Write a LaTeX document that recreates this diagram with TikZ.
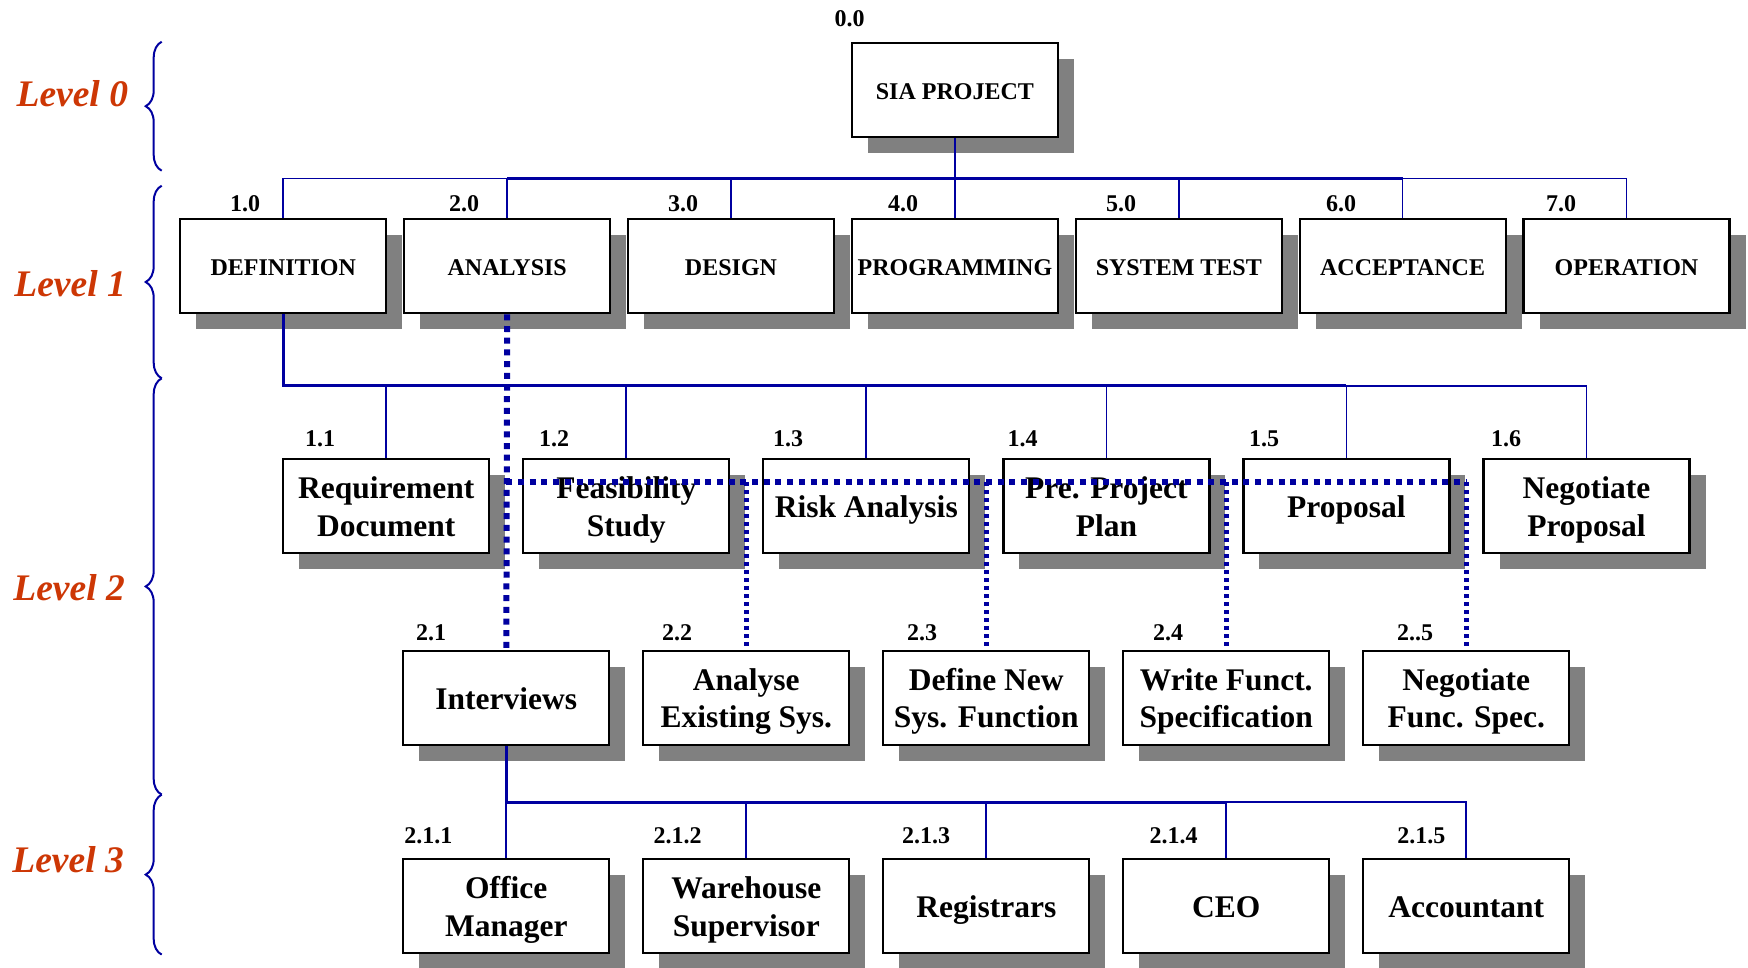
\documentclass[tikz,border=0pt]{standalone}
\usepackage{fontspec}
\setmainfont{Liberation Serif}
\usepackage{array}
\usetikzlibrary{decorations.pathreplacing,shadows}
\definecolor{lblue}{RGB}{0,0,160}
\definecolor{lvl}{RGB}{205,55,5}
\definecolor{shad}{RGB}{128,128,128}
\newcolumntype{B}{@{}>{\rule[-7.7pt]{0pt}{37.4pt}}c@{}}
\newcolumntype{S}{@{}>{\rule[-1pt]{0pt}{21pt}}c@{}}
\renewcommand\arraystretch{0}
\newcommand\BT[1]{\begin{tabular}{B}#1\end{tabular}}
\newcommand\ST[1]{\begin{tabular}{S}#1\end{tabular}}
\tikzset{
  wbox/.style={draw=black, line width=2.2pt, fill=white, minimum width=206pt, minimum height=94pt,
    inner sep=0pt, anchor=center,
    drop shadow={shadow xshift=16pt, shadow yshift=-16pt, fill=shad, opacity=1, draw=none}},
  smallbox/.style={wbox, font=\fontsize{24}{28}\selectfont\bfseries},
  bigbox/.style={wbox, font=\fontsize{31.5}{37.4}\selectfont\bfseries},
  num/.style={inner sep=0pt, anchor=base, font=\fontsize{24}{28}\selectfont\bfseries},
  lev/.style={inner sep=0pt, anchor=base east, text=lvl, font=\fontsize{37.5}{40}\selectfont\bfseries\itshape},
  thinln/.style={draw=lblue, line width=1.7pt},
  thickln/.style={draw=lblue, line width=2.7pt},
  bigdot/.style={draw=lblue, line width=6pt, dash pattern=on 6pt off 5.7pt},
  smalldot/.style={draw=lblue, line width=4.5pt, dash pattern=on 4pt off 4pt},
  brc/.style={draw=lblue, line width=2pt, decorate, decoration={brace, amplitude=16pt}}
}
\begin{document}
\begin{tikzpicture}[x=1pt,y=-1pt]
\useasboundingbox (0,0) rectangle (1748,967);
\fill[white] (0,0) rectangle (1748,967);

% level labels and braces
\node[lev] (lv0) at (128.2,106) {Level 0};
\node[lev] (lv1) at (126,296.7) {Level 1};
\node[lev] (lv2) at (125,600) {Level 2};
\node[lev] (lv3) at (124,872) {Level 3};
\draw[brc] (161.7,170.7) -- (161.7,41.7);
\draw[brc] (161.7,378.3) -- (161.7,185.7);
\draw[brc] (161.7,794.6) -- (161.7,378.3);
\draw[brc] (161.7,954.6) -- (161.7,794.6);

% level 0
\node[smallbox] (root) at (954.9,90.3) {\ST{SIA PROJECT}};
\node[num] (n00) at (849.5,26) {0.0};

% level 1
\node[smallbox] (d1) at (283.3,266.2) {\ST{DEFINITION}};
\node[smallbox] (d2) at (507.2,266.2) {\ST{ANALYSIS}};
\node[smallbox] (d3) at (731.0,266.2) {\ST{DESIGN}};
\node[smallbox] (d4) at (954.9,266.2) {\ST{PROGRAMMING}};
\node[smallbox] (d5) at (1178.8,266.2) {\ST{SYSTEM TEST}};
\node[smallbox] (d6) at (1402.6,266.2) {\ST{ACCEPTANCE}};
\node[smallbox] (d7) at (1626.5,266.2) {\ST{OPERATION}};
\node[num] (n10) at (245,211.7) {1.0};
\node[num] (n20) at (464,211.7) {2.0};
\node[num] (n30) at (683,211.7) {3.0};
\node[num] (n40) at (903,211.7) {4.0};
\node[num] (n50) at (1121,211.7) {5.0};
\node[num] (n60) at (1341,211.7) {6.0};
\node[num] (n70) at (1561,211.7) {7.0};

% level 2 (1.x)
\node[bigbox] (a1) at (386.2,506.3) {\BT{Requirement\\Document}};
\node[bigbox] (a2) at (626.3,506.3) {\BT{Feasibility\\Study}};
\node[bigbox] (a3) at (866.3,506.3) {\BT{Risk Analysis}};
\node[bigbox] (a4) at (1106.4,506.3) {\BT{Pre. Project\\Plan}};
\node[bigbox] (a5) at (1346.4,506.3) {\BT{Proposal}};
\node[bigbox] (a6) at (1586.5,506.3) {\BT{Negotiate\\Proposal}};
\node[num] (n11) at (320,446.7) {1.1};
\node[num] (n12) at (554,446.7) {1.2};
\node[num] (n13) at (788,446.7) {1.3};
\node[num] (n14) at (1022.5,446.7) {1.4};
\node[num] (n15) at (1264,446.7) {1.5};
\node[num] (n16) at (1506,446.7) {1.6};

% level 2 (2.x)
\node[bigbox] (b1) at (506.3,698) {\BT{Interviews}};
\node[bigbox] (b2) at (746.3,698) {\BT{Analyse\\Existing Sys.}};
\node[bigbox] (b3) at (986.3,698) {\BT{Define New\\Sys. Function}};
\node[bigbox] (b4) at (1226.3,698) {\BT{Write Funct.\\Specification}};
\node[bigbox] (b5) at (1466.3,698) {\BT{Negotiate\\Func. Spec.}};
\node[num] (n21) at (431,640.5) {2.1};
\node[num] (n22) at (677,640.5) {2.2};
\node[num] (n23) at (922,640.5) {2.3};
\node[num] (n24) at (1168,640.5) {2.4};
\node[num] (n25) at (1415,640.5) {2..5};

% level 3
\node[bigbox] (c1) at (506.3,906.3) {\BT{Office\\Manager}};
\node[bigbox] (c2) at (746.3,906.3) {\BT{Warehouse\\Supervisor}};
\node[bigbox] (c3) at (986.3,906.3) {\BT{Registrars}};
\node[bigbox] (c4) at (1226.3,906.3) {\BT{CEO}};
\node[bigbox] (c5) at (1466.3,906.3) {\BT{Accountant}};
\node[num] (n211) at (428.4,843) {2.1.1};
\node[num] (n212) at (677.6,843) {2.1.2};
\node[num] (n213) at (926,843) {2.1.3};
\node[num] (n214) at (1173.7,843) {2.1.4};
\node[num] (n215) at (1421.3,843) {2.1.5};

% buses
\coordinate (bus1) at (0,178.4);
\coordinate (bus2) at (0,385.8);
\coordinate (bus3) at (0,802.3);
\coordinate (dh) at (0,482.3);

% level 1 connectors
\draw[thinln] (d1.north) -- (d1.north |- bus1) -- (d7.north |- bus1) -- (d7.north);
\foreach \n in {d2,d3,d4,d5,d6} \draw[thinln] (\n.north) -- (\n.north |- bus1);
\draw[thickln] (root.south) -- (root.south |- bus1);
\draw[thickln] (d2.north |- bus1) -- (d6.north |- bus1);

% level 2 connectors
\draw[thinln] (d1.south |- bus2) -- (a6.north |- bus2) -- (a6.north);
\foreach \n in {a1,a2,a3,a4,a5} \draw[thinln] (\n.north) -- (\n.north |- bus2);
\draw[thickln] (d1.south) -- (d1.south |- bus2) -- (a5.north |- bus2);

% level 3 connectors
\draw[thinln] (b1.south |- bus3) -- (c5.north |- bus3) -- (c5.north);
\foreach \n in {c1,c2,c3,c4} \draw[thinln] (\n.north) -- (\n.north |- bus3);
\draw[thickln] (b1.south) -- (b1.south |- bus3) -- (c4.north |- bus3);

% dotted connectors
\draw[bigdot] (d2.south) -- (b1.north);
\draw[bigdot] (b1.north |- dh) -- (b5.north |- dh);
\foreach \n in {b2,b3,b4,b5} \draw[smalldot] (\n.north |- dh) -- (\n.north);
\end{tikzpicture}
\end{document}
